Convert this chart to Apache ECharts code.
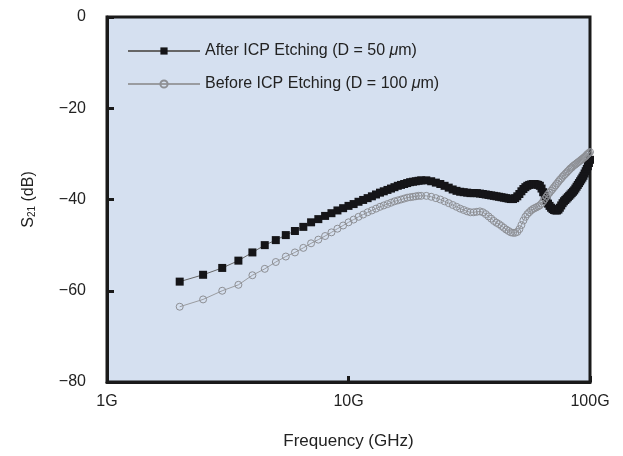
<!DOCTYPE html>
<html>
<head>
<meta charset="UTF-8">
<title>S21 vs frequency</title>
<script src="https://cdn.jsdelivr.net/npm/echarts@6/dist/echarts.min.js"></script>
<style>
  html, body { margin: 0; padding: 0; background: #fff; }
</style>
</head>
<body>
<div id="main" style="width: 623px;height:456px;"></div>
<script type="text/javascript">
// frequency points (GHz)
var freq = [2, 2.5, 3, 3.5, 4, 4.5, 5, 5.5, 6, 6.5, 7, 7.5, 8, 8.5, 9, 9.5, 10,
  10.5, 11, 11.5, 12, 12.5, 13, 13.5, 14, 14.5, 15, 15.5, 16, 16.5, 17, 17.5, 18, 18.5, 19, 19.5, 20,
  21, 22, 23, 24, 25, 26, 27, 28, 29, 30, 31, 32, 33, 34, 35, 36, 37, 38, 39, 40,
  41, 42, 43, 44, 45, 46, 47, 48, 49, 50, 51, 52, 53, 54, 55, 56, 57, 58, 59, 60,
  61, 62, 63, 64, 65, 66, 67, 68, 69, 70, 71, 72, 73, 74, 75, 76, 77, 78, 79, 80,
  81, 82, 83, 84, 85, 86, 87, 88, 89, 90, 91, 92, 93, 94, 95, 96, 97, 98, 99, 100];

// After ICP Etching (D = 50 um)
var afterEtch = [-58.0, -56.5, -55.0, -53.4, -51.6, -50.0, -48.9, -47.8, -46.9, -46.0, -45.0, -44.3, -43.6, -43.0, -42.4, -41.9, -41.4,
  -41.0, -40.5, -40.1, -39.7, -39.3, -38.9, -38.5, -38.2, -37.9, -37.6, -37.3, -37.0, -36.8, -36.6, -36.4, -36.2, -36.1, -36.0, -35.9, -35.8,
  -35.8, -36.0, -36.3, -36.6, -37.0, -37.4, -37.8, -38.1, -38.3, -38.4, -38.5, -38.6, -38.6, -38.6, -38.7, -38.8, -38.9, -39.0, -39.1, -39.2,
  -39.3, -39.4, -39.5, -39.6, -39.7, -39.8, -39.9, -39.9, -39.7, -39.3, -38.8, -38.2, -37.7, -37.3, -37.0, -36.8, -36.7, -36.6, -36.6, -36.7,
  -36.8, -37.0, -37.6, -38.4, -39.3, -40.2, -40.9, -41.4, -41.8, -42.1, -42.3, -42.4, -42.4, -42.2, -41.8, -41.3, -40.8, -40.4, -40.1, -39.8,
  -39.5, -39.2, -38.9, -38.6, -38.3, -38.0, -37.6, -37.2, -36.8, -36.4, -36.0, -35.6, -35.2, -34.8, -34.3, -33.8, -33.3, -32.7, -32.0, -31.3];

// Before ICP Etching (D = 100 um)
var beforeEtch = [-63.5, -61.9, -60.0, -58.7, -56.6, -55.2, -53.7, -52.5, -51.6, -50.6, -49.6, -48.8, -48.0, -47.2, -46.4, -45.7, -45.0,
  -44.4, -43.8, -43.3, -42.8, -42.4, -42.0, -41.6, -41.3, -41.0, -40.7, -40.4, -40.2, -40.0, -39.8, -39.6, -39.5, -39.4, -39.3, -39.2, -39.2,
  -39.2, -39.4, -39.7, -40.0, -40.4, -40.8, -41.2, -41.6, -42.0, -42.3, -42.6, -42.8, -42.8, -42.7, -42.6, -42.8, -43.2, -43.7, -44.2, -44.7,
  -45.1, -45.4, -45.8, -46.2, -46.6, -46.9, -47.2, -47.3, -47.3, -47.1, -46.5, -45.6, -44.6, -43.8, -43.2, -42.8, -42.4, -42.1, -41.9, -41.7,
  -41.5, -41.3, -40.9, -40.4, -39.9, -39.4, -38.9, -38.5, -38.1, -37.7, -37.3, -36.9, -36.5, -36.1, -35.7, -35.4, -35.0, -34.7, -34.4, -34.1,
  -33.8, -33.5, -33.2, -33.0, -32.7, -32.5, -32.3, -32.1, -31.9, -31.7, -31.5, -31.3, -31.1, -30.9, -30.7, -30.5, -30.2, -30.0, -29.8, -29.6];

var xTicks = [1, 10, 100];
var yTicks = [-80, -60, -40, -20, 0];

function pairs(ys) {
  var out = [];
  for (var i = 0; i < freq.length; i++) out.push([freq[i], ys[i]]);
  return out;
}

var font = 'Liberation Sans, Arial, sans-serif';
var myChart = echarts.init(document.getElementById('main'));

var option = {
  backgroundColor: '#fff',
  animation: false,
  grid: {
    left: 107, right: 33, top: 17, bottom: 74,
    show: true,
    backgroundColor: '#d5e0f0',
    borderColor: '#1a1a1a',
    borderWidth: 3
  },
  legend: {
    left: 122, top: 38,
    orient: 'vertical',
    itemGap: 17,
    itemWidth: 72,
    itemHeight: 9,
    data: ['after', 'before'],
    formatter: function (n) {
      return n === 'after'
        ? 'After ICP Etching (D = 50 {i|μ}m)'
        : 'Before ICP Etching (D = 100 {i|μ}m)';
    },
    textStyle: {
      fontFamily: font, fontSize: 16, color: '#222',
      rich: { i: { fontFamily: font, fontSize: 16, fontStyle: 'italic', color: '#222' } }
    }
  },
  xAxis: {
    type: 'log',
    logBase: 10,
    min: xTicks[0],
    max: xTicks[xTicks.length - 1],
    name: 'Frequency (GHz)',
    nameLocation: 'middle',
    nameGap: 51,
    nameTextStyle: { fontFamily: font, fontSize: 17, color: '#222' },
    axisLine: { show: true, onZero: false, lineStyle: { color: '#1a1a1a', width: 3 } },
    axisTick: { inside: true, length: 6, lineStyle: { color: '#1a1a1a', width: 3 } },
    minorTick: { show: false },
    splitLine: { show: false },
    axisLabel: {
      fontFamily: font, fontSize: 16, color: '#222', margin: 12,
      showMinLabel: true, showMaxLabel: true,
      formatter: function (v) { return v + 'G'; }
    }
  },
  yAxis: {
    type: 'value',
    min: yTicks[0],
    max: yTicks[yTicks.length - 1],
    interval: 20,
    name: 'S{sub|21} (dB)',
    nameLocation: 'middle',
    nameGap: 70,
    nameRotate: 90,
    nameTextStyle: {
      fontFamily: font, fontSize: 16, color: '#222',
      rich: { sub: { fontFamily: font, fontSize: 10, color: '#222', verticalAlign: 'bottom', padding: [6, 0, 0, 0] } }
    },
    axisLine: { show: true, onZero: false, lineStyle: { color: '#1a1a1a', width: 3 } },
    axisTick: { inside: false, length: -7, lineStyle: { color: '#1a1a1a', width: 3 } },
    splitLine: { show: false },
    axisLabel: {
      fontFamily: font, fontSize: 16, color: '#222', margin: 21,
      formatter: function (v) { return String(v).replace('-', '\u2212'); }
    }
  },
  series: [{
    name: 'after',
    type: 'line',
    data: pairs(afterEtch),
    symbol: 'rect',
    symbolSize: 8,
    showSymbol: true,
    showAllSymbol: true,
    z: 3,
    itemStyle: { color: '#151518' },
    lineStyle: { color: '#666', width: 1 }
  }, {
    name: 'before',
    type: 'line',
    data: pairs(beforeEtch),
    symbol: 'circle',
    symbolSize: 7,
    showSymbol: true,
    showAllSymbol: true,
    z: 4,
    itemStyle: { color: 'rgba(0,0,0,0)', borderColor: '#8d8f94', borderWidth: 1 },
    lineStyle: { color: '#9a9ca0', width: 1 }
  }]
};

myChart.setOption(option);
</script>
</body>
</html>
